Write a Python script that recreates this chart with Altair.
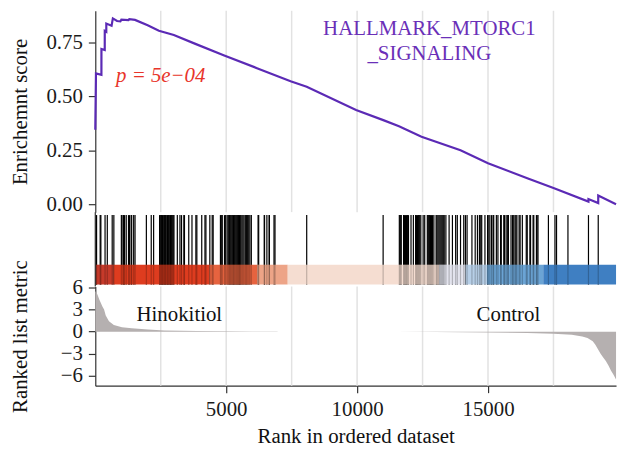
import altair as alt
import pandas as pd

FONT = "Liberation Serif"
FS = 21
LINE_COLOR = "#5B2AB5"
TITLE_COLOR = "#6A2FB8"
GRID_COLOR = "#E2E2E2"
AXIS_COLOR = "#333333"

# ---------------- data ----------------
# running enrichment score
es_rank = [0, 26, 234, 235, 361, 362, 420, 421, 622, 671, 832, 959, 996, 1268,
           1300, 1518, 2000, 2430, 3000, 3800, 4925, 6200, 7460, 8075, 9960,
           11000, 11600, 12460, 13950, 15000, 16500, 17500, 18836, 18837,
           19209, 19210, 19890]
es_value = [0.345, 0.607, 0.600, 0.720, 0.715, 0.804, 0.800, 0.838, 0.828,
            0.862, 0.850, 0.848, 0.856, 0.854, 0.858, 0.855, 0.830, 0.805,
            0.785, 0.745, 0.690, 0.630, 0.570, 0.545, 0.437, 0.390, 0.362,
            0.313, 0.250, 0.190, 0.120, 0.075, 0.012, 0.024, 0.005, 0.040,
            0.000]

# gene-set hits (rank positions)
hit_rank = [26, 49, 187, 213, 373, 459, 646, 709, 996, 1056, 1082, 1119, 1182,
            1269, 1306, 1369, 1391, 1466, 1518, 1951, 2137, 2228, 2455, 2480,
            2510, 2535, 2565, 2590, 2620, 2650, 2675, 2700, 2735, 2760, 2790,
            2820, 2850, 2875, 2905, 2940, 2975, 3005, 3133, 3234, 3294, 3383,
            3406, 3570, 3693, 3842, 3879, 4066, 4189, 4226, 4375, 4465, 4502,
            4780, 4812, 4850, 4935, 4980, 5036, 5080, 5121, 5150, 5180, 5215,
            5250, 5280, 5310, 5345, 5380, 5410, 5440, 5475, 5505, 5530, 5558,
            5600, 5640, 5681, 5730, 5770, 5808, 5860, 5905, 5960, 6218, 6241,
            6453, 6465, 6554, 6640, 6651, 6826, 6864, 8075, 10994, 11613,
            11650, 11687, 11776, 11810, 11850, 11885, 11920, 11962, 12059,
            12149, 12235, 12270, 12310, 12350, 12390, 12433, 12522, 12582,
            12682, 12720, 12760, 12800, 12840, 12880, 12932, 13018, 13050,
            13090, 13130, 13170, 13210, 13250, 13290, 13328, 13391, 13514,
            13641, 13764, 13827, 13950, 14073, 14137, 14200, 14386, 14510,
            14596, 14671, 14723, 14760, 14883, 14984, 15006, 15069, 15133,
            15192, 15218, 15319, 15379, 15480, 15506, 15603, 15629, 15692,
            15752, 15778, 15879, 15938, 15964, 16028, 16065, 16103, 16188,
            16226, 16311, 16461, 16498, 16599, 16625, 16722, 16748, 16849,
            16871, 16909, 17307, 17557, 17617, 18053, 18837, 19210]

# colour bar bins (rank start / end)
bin_id = ["b1", "b2", "b3", "b4", "b5", "b6", "b7", "b8", "b9"]
bin_start = [0, 700, 4360, 6190, 7350, 13130, 14140, 14960, 17110]
bin_end = [700, 4360, 6190, 7350, 13130, 14140, 14960, 17110, 19890]
bin_colors = ["#C63A2A", "#DE3C1F", "#E6633F", "#EDA487", "#F5DDD1",
              "#E3E4EE", "#B7CFE7", "#6BA4D5", "#3F7FC2"]

# ranked list metric
metric_rank = [0, 30, 86, 149, 213, 272, 336, 399, 522, 709, 1018, 1391, 2014,
               2637, 3879, 5110, 6000, 6930, 7000, 11500, 13000, 15000, 16500,
               17500, 18200, 18600, 18800, 19000, 19100, 19200, 19300, 19400,
               19500, 19600, 19700, 19800, 19890]
metric_value = [5.5, 5.4, 5.0, 4.4, 3.9, 3.4, 3.0, 2.2, 1.4, 0.9, 0.6, 0.45,
                0.28, 0.16, 0.08, 0.04, 0.02, 0.005, 0.0, -0.01, -0.04, -0.11,
                -0.2, -0.3, -0.42, -0.65, -0.85, -1.3, -1.8, -2.4, -3.0, -3.5,
                -4.0, -4.6, -5.3, -5.9, -6.5]

grid_rank = [2500, 5000, 7500, 10000, 12500, 15000, 17500]
x_ticks = [5000, 10000, 15000]
es_ticks = [0.0, 0.25, 0.50, 0.75]
metric_ticks = [-6, -3, 0, 3, 6]

es_df = pd.DataFrame({"rank": es_rank, "es": es_value})
hit_df = pd.DataFrame({"rank": hit_rank})
bin_df = pd.DataFrame({"bin": bin_id, "start": bin_start, "end": bin_end})
metric_df = pd.DataFrame({"rank": metric_rank, "metric": metric_value})
grid_df = pd.DataFrame({"g": grid_rank})

W = 525
x_scale = alt.Scale(domain=[0, 19890], nice=False, zero=False)
es_scale = alt.Scale(domain=[-0.0368, 0.8974], nice=False, zero=False)
m_scale = alt.Scale(domain=[-7.35, 6.13], nice=False, zero=False)

Y_EXT = 52
TPAD = 13

es_axis = alt.Axis(values=es_ticks, format=".2f", title="Enrichemnt score",
                   minExtent=Y_EXT, maxExtent=Y_EXT, titlePadding=TPAD)
m_axis = alt.Axis(values=metric_ticks, format="d", title="Ranked list metric",
                  minExtent=Y_EXT, maxExtent=Y_EXT, titlePadding=TPAD)
x_axis = alt.Axis(values=x_ticks, format="d", title="Rank in ordered dataset",
                  labelPadding=6, titlePadding=6)

# ---------------- top panel ----------------
top_grid = alt.Chart(grid_df).mark_rule(color=GRID_COLOR, strokeWidth=1.5).encode(
    x=alt.X("g:Q", scale=x_scale, axis=None))
es_line = alt.Chart(es_df).mark_line(color=LINE_COLOR, strokeWidth=2.2).encode(
    x=alt.X("rank:Q", scale=x_scale, axis=None),
    y=alt.Y("es:Q", scale=es_scale, axis=es_axis))
title_txt = alt.Chart(pd.DataFrame({"t": [0]})).mark_text(
    text="HALLMARK_MTORC1\n_SIGNALING", lineBreak="\n", lineHeight=26,
    font=FONT, fontSize=FS, color=TITLE_COLOR, align="center",
    baseline="alphabetic").encode(
    x=alt.XDatum(12760, scale=x_scale, axis=None),
    y=alt.YDatum(0.787, scale=es_scale, axis=es_axis))
p_txt = alt.Chart(pd.DataFrame({"t": [0]})).mark_text(
    text="p = 5e\u221204", font=FONT, fontSize=FS, fontStyle="italic",
    color="#E8342A", align="center", baseline="alphabetic").encode(
    x=alt.XDatum(2500, scale=x_scale, axis=None),
    y=alt.YDatum(0.566, scale=es_scale, axis=es_axis))
top = alt.layer(top_grid, es_line, title_txt, p_txt).properties(width=W, height=203)

# ---------------- middle panel ----------------
hits = alt.Chart(hit_df).mark_rule(color="black", strokeWidth=1.2).encode(
    x=alt.X("rank:Q", scale=x_scale, axis=None),
    y=alt.value(3), y2=alt.value(73))
bar = alt.Chart(bin_df).mark_rect().encode(
    x=alt.X("start:Q", scale=x_scale, axis=None), x2="end:Q",
    y=alt.value(53), y2=alt.value(73),
    color=alt.Color("bin:N", scale=alt.Scale(domain=bin_id, range=bin_colors),
                    legend=None))
hits_in_bar = alt.Chart(hit_df).mark_rule(color="black", strokeWidth=1.2,
                                          opacity=0.22).encode(
    x=alt.X("rank:Q", scale=x_scale, axis=None),
    y=alt.value(53), y2=alt.value(73))
left_line = alt.Chart(pd.DataFrame({"t": [0]})).mark_rule(
    color=AXIS_COLOR, strokeWidth=1.2).encode(
    x=alt.XDatum(0, scale=x_scale, axis=None))
mid = alt.layer(hits, bar, hits_in_bar, left_line).properties(width=W, height=75)

# ---------------- bottom panel ----------------
bot_grid = alt.Chart(grid_df).mark_rule(color=GRID_COLOR, strokeWidth=1.5).encode(
    x=alt.X("g:Q", scale=x_scale, axis=x_axis))
area = alt.Chart(metric_df).mark_area(color="#B5B0B0").encode(
    x=alt.X("rank:Q", scale=x_scale, axis=x_axis),
    y=alt.Y("metric:Q", scale=m_scale, axis=m_axis),
    y2=alt.Y2Datum(0))
lab_df = pd.DataFrame({"label": ["Hinokitiol", "Control"],
                       "rank": [3210, 15780], "metric": [1.5, 1.5]})
labels = alt.Chart(lab_df).mark_text(font=FONT, fontSize=FS, color="#111111",
                                     align="center", baseline="alphabetic").encode(
    x=alt.X("rank:Q", scale=x_scale, axis=x_axis),
    y=alt.Y("metric:Q", scale=m_scale, axis=m_axis),
    text="label:N")
bot = alt.layer(bot_grid, area, labels).properties(width=W, height=100)

chart = alt.vconcat(top, mid, bot, spacing=0, bounds="flush").properties(
    padding={"left": 2, "top": 0, "right": 0, "bottom": 0}
).configure_view(stroke=None).configure_axis(
    labelFont=FONT, titleFont=FONT, labelFontSize=FS, titleFontSize=FS,
    titleFontWeight="normal", labelColor="#1A1A1A", titleColor="#111111",
    domainColor=AXIS_COLOR, tickColor=AXIS_COLOR, domainWidth=1.2,
    tickWidth=1.2, tickSize=7, labelPadding=6, grid=False
)

chart.save("out.html", embed_options={"renderer": "svg", "actions": False})
